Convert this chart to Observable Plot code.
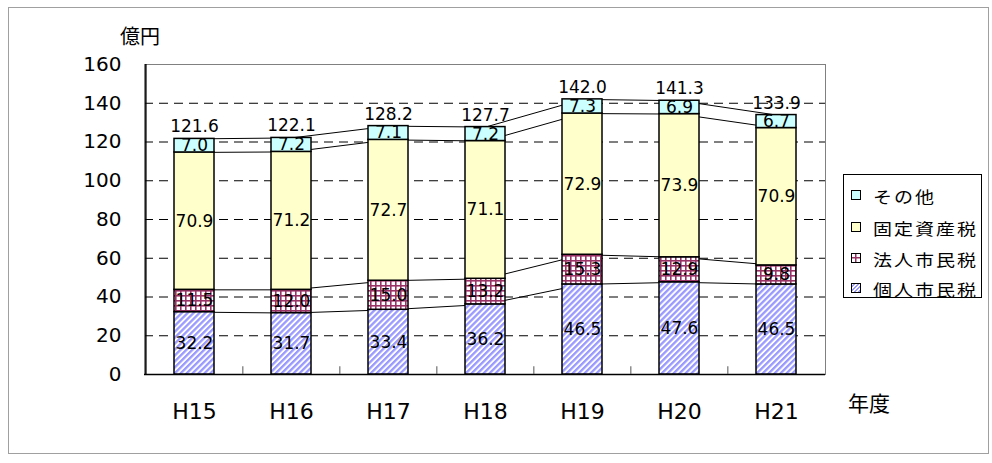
<!DOCTYPE html>
<html>
<head>
<meta charset="utf-8">
<script src="https://cdn.jsdelivr.net/npm/d3@7"></script>
<script src="https://cdn.jsdelivr.net/npm/@observablehq/plot@0.6"></script>
<style>
  html, body { margin: 0; padding: 0; background: #fff; }
  #wrap { position: relative; width: 992px; height: 463px; overflow: hidden; font-family: "Noto Sans CJK JP", sans-serif; }
  #wrap svg.plot { position: absolute; left: 0; top: 0; }
  .border { position: absolute; left: 8px; top: 7px; width: 981px; height: 447px; border: 1px solid #a0a0a0; box-sizing: border-box; }
  .lbl { position: absolute; color: #000; white-space: nowrap; line-height: 1; }
  .legend { position: absolute; left: 843px; top: 174px; width: 139px; height: 124px; border: 1px solid #000; box-sizing: border-box; background: #fff; }
  .sw { position: absolute; left: 7px; width: 10px; height: 10px; border: 1.5px solid #000; box-sizing: border-box; }
  .it { position: absolute; left: 29px; font-size: 19px; letter-spacing: 2px; line-height: 1; white-space: nowrap; transform: scaleY(0.85); transform-origin: left center; color: #000; }
</style>
</head>
<body>
<div id="wrap">
  <svg width="0" height="0" style="position:absolute">
    <defs>
      <pattern id="pStripe" patternUnits="userSpaceOnUse" width="4.2" height="4.2" patternTransform="rotate(45)">
        <rect width="4.2" height="4.2" fill="#ffffff"></rect>
        <rect x="0" y="0" width="2.3" height="4.2" fill="#9999ff"></rect>
      </pattern>
      <pattern id="pGrid" patternUnits="userSpaceOnUse" width="5" height="5">
        <rect width="5" height="5" fill="#ffffff"></rect>
        <rect x="0" y="0" width="1.6" height="5" fill="#993366"></rect>
        <rect x="0" y="0" width="5" height="1.6" fill="#993366"></rect>
      </pattern>
    </defs>
  </svg>
  <div class="border"></div>
</div>
<script>
const years = ["H15", "H16", "H17", "H18", "H19", "H20", "H21"];
const kojin = [32.2, 31.7, 33.4, 36.2, 46.5, 47.6, 46.5];   // 個人市民税
const hojin = [11.5, 12.0, 15.0, 13.2, 15.3, 12.9, 9.8];    // 法人市民税
const kotei = [70.9, 71.2, 72.7, 71.1, 72.9, 73.9, 70.9];   // 固定資産税
const sonota = [7.0, 7.2, 7.1, 7.2, 7.3, 6.9, 6.7];         // その他
const totals = [121.6, 122.1, 128.2, 127.7, 142.0, 141.3, 133.9];
const seriesNames = ["個人市民税", "法人市民税", "固定資産税", "その他"];
const seriesValues = [kojin, hojin, kotei, sonota];
const yTicks = [0, 20, 40, 60, 80, 100, 120, 140, 160];
const gridTicks = [20, 40, 60, 80, 100, 120, 140];
const yUnit = "億円";
const xUnit = "年度";
const fills = ["url(#pStripe)", "url(#pGrid)", "#ffffcc", "#ccffff"];

// stacked table
const rows = [];
years.forEach((yr, i) => {
  let base = 0;
  seriesValues.forEach((vals, s) => {
    rows.push({year: yr, series: seriesNames[s], value: vals[i], base: base, top: base + vals[i]});
    base += vals[i];
  });
});
const totalRows = years.map((yr, i) => ({year: yr, total: totals[i]}));

const W = 992, H = 463, ML = 144, MR = 167, MT = 64, MB = 89;
const halfStep = (W - ML - MR) / years.length / 2;

const chart = Plot.plot({
  width: W, height: H,
  marginLeft: ML, marginRight: MR, marginTop: MT, marginBottom: MB,
  style: {fontFamily: "DejaVu Sans, sans-serif", background: "transparent", color: "#000", overflow: "visible"},
  x: {domain: years, paddingInner: 0.59, paddingOuter: 0.295, align: 0.5, label: null},
  y: {domain: [0, 160], label: null},
  color: {domain: seriesNames, range: fills},
  marks: [
    Plot.ruleY(gridTicks, {stroke: "#000", strokeWidth: 1, strokeDasharray: "9,6"}),
    Plot.frame({stroke: "#808080", strokeWidth: 1}),
    Plot.ruleY([0], {stroke: "#000", strokeWidth: 1.5}),
    Plot.ruleX([years[0]], {dx: -halfStep, stroke: "#000", strokeWidth: 1.5}),
    Plot.ruleX(years.slice(1), {dx: -halfStep, y1: 0, y2: 4, stroke: "#555", strokeWidth: 1}),
    Plot.axisY({ticks: yTicks, tickSize: 0, tickPadding: 23, fontSize: 20, label: null}),
    Plot.axisX({tickSize: 0, tickPadding: 29, fontSize: 22, label: null}),
    Plot.line(rows, {x: "year", y: "top", z: "series", stroke: "#000", strokeWidth: 1}),
    Plot.barY(rows, {x: "year", y1: "base", y2: "top", fill: "series", stroke: "#000", strokeWidth: 1.5}),
    Plot.text(rows, {x: "year", y: d => (d.base + d.top) / 2, text: d => d.value.toFixed(1), fontSize: 17, fill: "#000"}),
    Plot.text(totalRows, {x: "year", y: "total", text: d => d.total.toFixed(1), dy: -12, fontSize: 17, fill: "#000"})
  ]
});
chart.classList.add("plot");
const wrap = document.getElementById("wrap");
wrap.appendChild(chart);

function addLabel(text, cx, cy, size) {
  const el = document.createElement("div");
  el.className = "lbl";
  el.textContent = text;
  el.style.fontSize = size + "px";
  wrap.appendChild(el);
  const r = el.getBoundingClientRect();
  el.style.left = (cx - r.width / 2) + "px";
  el.style.top = (cy - r.height / 2) + "px";
}
addLabel(yUnit, 140, 36, 20);
addLabel(xUnit, 869, 402, 21);

// legend (top to bottom: その他, 固定資産税, 法人市民税, 個人市民税)
const legend = document.createElement("div");
legend.className = "legend";
wrap.appendChild(legend);
const rowCenters = [20, 52, 83, 113];
[3, 2, 1, 0].forEach((s, k) => {
  const sw = document.createElement("div");
  sw.className = "sw";
  sw.style.top = (rowCenters[k] - 5) + "px";
  if (s === 0) sw.style.background = "repeating-linear-gradient(-45deg, #9999ff 0 1.5px, #fff 1.5px 3px)";
  else if (s === 1) sw.style.background = "linear-gradient(#993366,#993366) center/1.5px 100% no-repeat, linear-gradient(#993366,#993366) center/100% 1.5px no-repeat, #fff";
  else sw.style.background = fills[s];
  legend.appendChild(sw);
  const t = document.createElement("div");
  t.className = "it";
  t.textContent = seriesNames[s];
  legend.appendChild(t);
  const r = t.getBoundingClientRect();
  t.style.top = (rowCenters[k] - t.offsetHeight / 2) + "px";
});
</script>
</body>
</html>
